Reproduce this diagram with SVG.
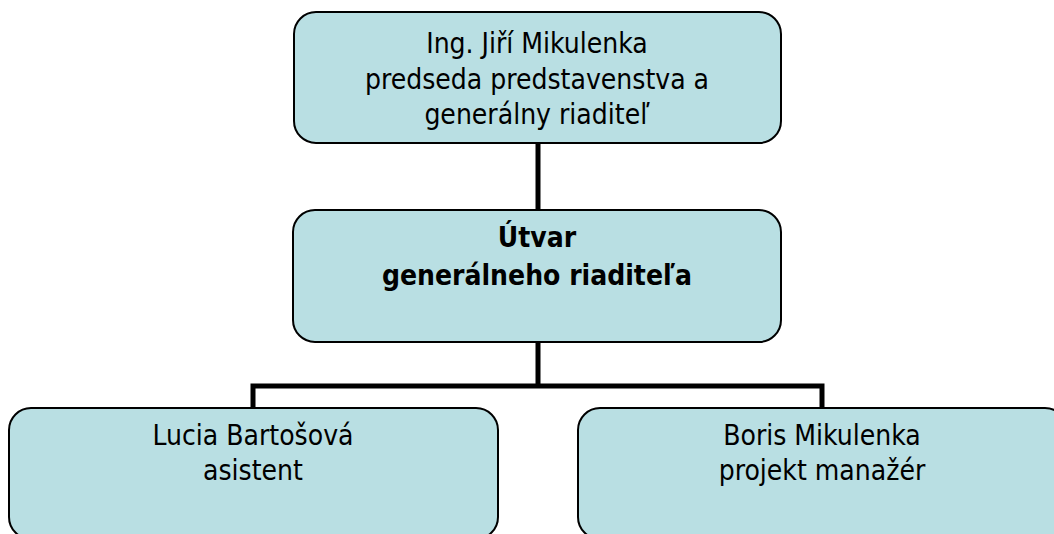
<svg xmlns="http://www.w3.org/2000/svg" width="1054" height="534" viewBox="0 0 1054 534">
<style>
.box{fill:#B9DFE3;stroke:#000;stroke-width:2}
.t{font-family:"DejaVu Sans Condensed","DejaVu Sans",sans-serif;font-stretch:condensed;font-size:28px;fill:#000;text-anchor:middle}
.b{font-weight:bold}
.c{fill:none;stroke:#000;stroke-width:5;stroke-linejoin:miter}
</style>
<rect width="1054" height="534" fill="#fff"/>
<g id="connectors">
<path class="c" d="M538,143 V210"/>
<path class="c" d="M538,342 V386 M253,408 V386 H822 V408"/>
</g>
<g id="node-ceo">
<rect class="box" x="294" y="12" width="487" height="131" rx="22"/>
<text class="t" x="537" y="53">Ing. Jiří Mikulenka</text>
<text class="t" x="537" y="89">predseda predstavenstva a</text>
<text class="t" x="537" y="124">generálny riaditeľ</text>
</g>
<g id="node-office">
<rect class="box" x="293" y="210" width="488" height="132" rx="22"/>
<text class="t b" x="537" y="247">Útvar</text>
<text class="t b" x="537" y="285">generálneho riaditeľa</text>
</g>
<g id="node-assistant">
<rect class="box" x="9" y="408" width="489" height="131" rx="22"/>
<text class="t" x="253" y="445">Lucia Bartošová</text>
<text class="t" x="253" y="480">asistent</text>
</g>
<g id="node-pm">
<rect class="box" x="578" y="408" width="489" height="131" rx="22"/>
<text class="t" x="822" y="445">Boris Mikulenka</text>
<text class="t" x="822" y="480">projekt manažér</text>
</g>
</svg>
